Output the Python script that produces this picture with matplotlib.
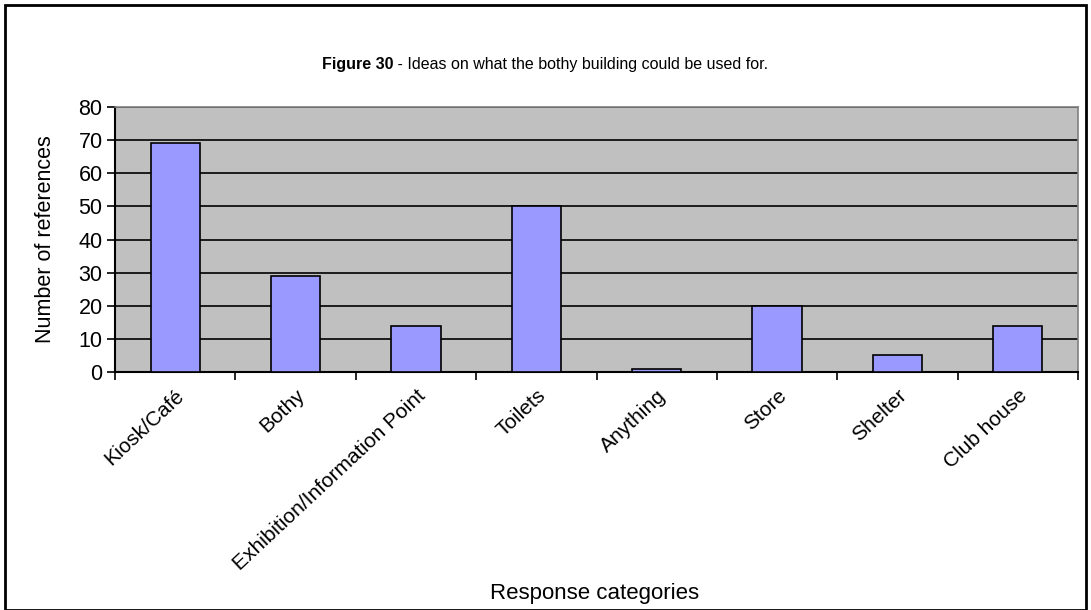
import matplotlib.pyplot as plt
from matplotlib.patches import Rectangle

plt.rcParams['font.family'] = ['Liberation Sans', 'DejaVu Sans']

# data
categories = ['Kiosk/Café', 'Bothy', 'Exhibition/Information Point', 'Toilets',
              'Anything', 'Store', 'Shelter', 'Club house']
counts = [69, 29, 14, 50, 1, 20, 5, 14]

fig = plt.figure(figsize=(10.91, 6.10), dpi=100)
ax = fig.add_axes([115/1091, 1 - 372/610, (1078-115)/1091, (372-107)/610])

ax.set_facecolor('#C0C0C0')
x = range(len(categories))
ax.bar(x, counts, width=0.41, color='#9999FF', edgecolor='black', linewidth=1.2, zorder=3)

ax.set_ylim(0, 80)
ax.set_xlim(-0.5, len(categories) - 0.5)
ax.set_yticks(range(0, 81, 10))
ax.yaxis.grid(True, color='black', linewidth=1.2, zorder=1)
ax.set_axisbelow(True)

# category ticks sit between the bars
ax.set_xticks([i - 0.5 for i in range(len(categories) + 1)])
ax.set_xticklabels([])
ax.set_xticks(list(x), minor=True)
ax.set_xticklabels(categories, minor=True, rotation=43, ha='right',
                   rotation_mode='anchor', fontsize=15)
ax.tick_params(axis='x', which='minor', length=0, pad=10)
ax.tick_params(axis='x', which='major', length=6, width=1.2, direction='out')
ax.tick_params(axis='y', length=6, width=1.2, labelsize=15.5, pad=3)

for s in ['left', 'bottom']:
    ax.spines[s].set_linewidth(1.5)
for s in ['top', 'right']:
    ax.spines[s].set_color('#808080')
    ax.spines[s].set_linewidth(1.2)

ax.set_ylabel('Number of references', fontsize=15.5, labelpad=16)
fig.text(595/1091, 1 - 594/610, 'Response categories', ha='center', va='center', fontsize=16)

# title made of bold + normal pieces
title_bold = 'Figure 30'
title_rest = ' - Ideas on what the bothy building could be used for.'
renderer = fig.canvas.get_renderer()
ty = 1 - 65/610
tb = fig.text(0, ty, title_bold, fontsize=11.5, fontweight='bold', va='center')
tr = fig.text(0, ty, title_rest, fontsize=11.5, va='center')
wb = tb.get_window_extent(renderer).width
wr = tr.get_window_extent(renderer).width
x0 = (545 - (wb + wr) / 2) / 1091
tb.set_x(x0)
tr.set_x(x0 + wb / 1091)

fig.add_artist(Rectangle((5/1091, 0), 1081/1091, 1 - 5/610, transform=fig.transFigure,
                         fill=False, edgecolor='black', linewidth=2))

fig.savefig('out.png', dpi=100)
